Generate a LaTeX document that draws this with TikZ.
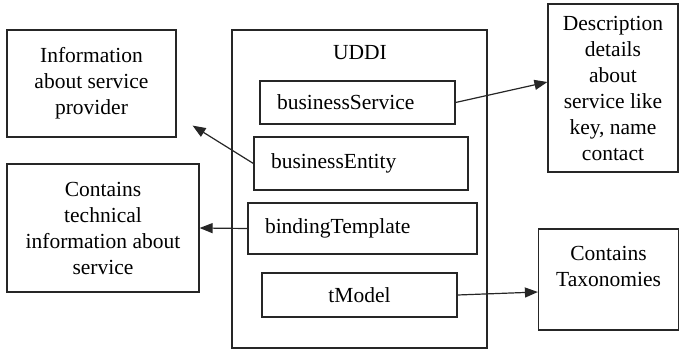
\documentclass[tikz,border=0pt]{standalone}
\usepackage{fontspec}
\setmainfont{Liberation Serif}
\usetikzlibrary{arrows.meta}

\begin{document}
\begin{tikzpicture}[x=1pt,y=-1pt,
  every node/.style={font=\fontsize{21.5}{26}\selectfont},
  box/.style={draw=black!85,line width=1.2pt,align=center,inner sep=0pt},
  inbox/.style={box,align=left,inner xsep=17pt},
  arr/.style={-{Triangle[length=13pt,width=10pt]},line width=1.2pt,black!85}]
  \useasboundingbox (0,0) rectangle (680,350);

  \node[box,minimum width=169pt,minimum height=107pt] (info) at (91.5,83.5)
    {Information\\about service\\provider};
  \node[box,minimum width=192pt,minimum height=128pt] (tech) at (103,228)
    {Contains\\technical\\information about\\service};

  \node[box,minimum width=255pt,minimum height=318pt] (uddi) at (359.5,189) {};
  \node (uddilbl) at (360,53) {UDDI};
  \node[inbox,text width=161pt,minimum height=43pt] (bserv) at (357.5,102.5) {businessService};
  \node[inbox,text width=180pt,minimum height=53pt] (bent) at (361,163.5) {businessEntity};
  \node[inbox,text width=195pt,minimum height=51pt] (bind) at (362.5,228.5) {bindingTemplate};
  \node[box,minimum width=195pt,minimum height=44pt] (tmod) at (359.5,295) {tModel};

  \node[box,minimum width=130pt,minimum height=168pt] (desc) at (613,88)
    {Description\\details\\about\\service like\\key, name\\contact};
  \node[box,minimum width=140pt,minimum height=101pt] (tax) at (608.5,279.5)
    {Contains\\Taxonomies\\\mbox{}};

  \draw[arr] (bserv.east) -- ([yshift=6pt]desc.west);
  \draw[arr] (bent.west) -- ([xshift=16pt,yshift=12pt]info.south east);
  \draw[arr] (bind.west) -- (tech.east);
  \draw[arr] (tmod.east) -- ([yshift=-12.5pt]tax.west);
\end{tikzpicture}
\end{document}
